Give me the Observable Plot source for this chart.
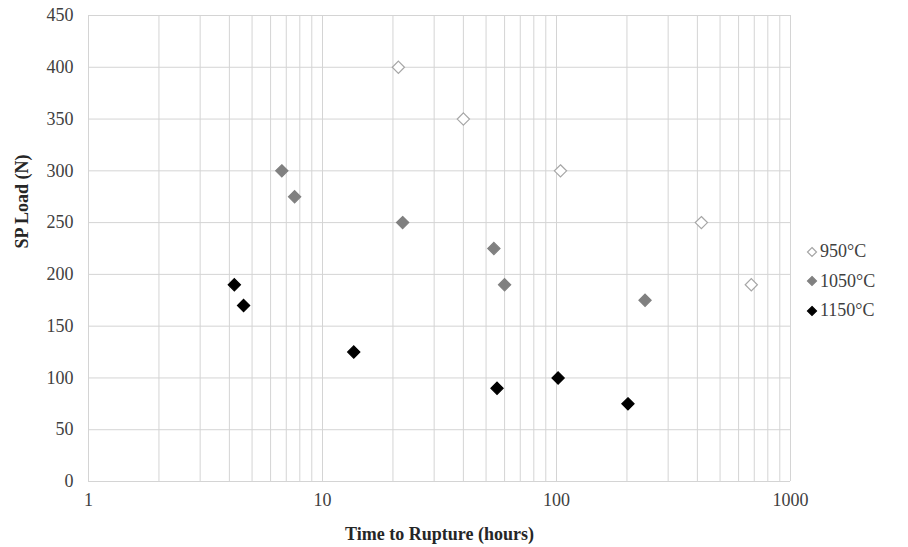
<!DOCTYPE html>
<html>
<head>
<meta charset="utf-8">
<script src="https://cdn.jsdelivr.net/npm/d3@7"></script>
<script src="https://cdn.jsdelivr.net/npm/@observablehq/plot@0.6"></script>
<style>
  html, body { margin: 0; padding: 0; background: #fff; }
  #wrap { position: relative; width: 908px; height: 547px; }
  #legend { position: absolute; left: 806px; top: 237px; font-family: "Liberation Serif", serif; font-size: 18px; color: #404040; }
  #legend .row { height: 29.5px; display: flex; align-items: center; }
  #legend svg { margin-right: 2px; }
</style>
</head>
<body>
<div id="wrap"><div id="legend"></div></div>
<script>
// Series: 950°C
const t950 = [21.1, 40, 104, 416, 680];
const p950 = [400, 350, 300, 250, 190];
// Series: 1050°C
const t1050 = [6.7, 7.6, 22, 54, 60, 239];
const p1050 = [300, 275, 250, 225, 190, 175];
// Series: 1150°C
const t1150 = [4.2, 4.6, 13.6, 55.7, 101.6, 202];
const p1150 = [190, 170, 125, 90, 100, 75];

const seriesNames = ["950°C", "1050°C", "1150°C"];
const seriesFill = ["#ffffff", "#808080", "#000000"];
const seriesStroke = ["#a6a6a6", "#808080", "#000000"];

const xTicks = [1, 10, 100, 1000];
const yTicks = [0, 50, 100, 150, 200, 250, 300, 350, 400, 450];
const xGrid = [1,2,3,4,5,6,7,8,9,10,20,30,40,50,60,70,80,90,100,200,300,400,500,600,700,800,900,1000];

const data = [];
[[t950, p950], [t1050, p1050], [t1150, p1150]].forEach(([ts, ps], i) => {
  ts.forEach((t, j) => data.push({series: seriesNames[i], t, p: ps[j], fill: seriesFill[i], stroke: seriesStroke[i]}));
});

const chart = Plot.plot({
  width: 908,
  height: 547,
  marginLeft: 88,
  marginRight: 118,
  marginTop: 15,
  marginBottom: 66,
  style: { fontFamily: "Liberation Serif, serif", fontSize: "18px", color: "#404040", background: "#fff", overflow: "visible" },
  x: { type: "log", domain: [1, 1000], ticks: xTicks, tickFormat: d => String(d), label: null, tickSize: 0, tickPadding: 12 },
  y: { domain: [0, 450], ticks: yTicks, label: null, tickSize: 0, tickPadding: 14 },
  marks: [
    Plot.ruleX(xGrid, { stroke: "#d4d4d4", strokeWidth: 1 }),
    Plot.ruleY(yTicks, { stroke: "#d4d4d4", strokeWidth: 1 }),
    Plot.axisX({ ticks: xTicks, tickFormat: d => String(d), tickSize: 0, tickPadding: 12, fill: "#404040", label: null }),
    Plot.axisY({ ticks: yTicks, tickSize: 0, tickPadding: 15, fill: "#404040", label: null }),
    Plot.dot(data, { x: "t", y: "p", symbol: "diamond2", r: 5.5, fill: "fill", stroke: "stroke", strokeWidth: 1.2 }),
    Plot.text(["Time to Rupture (hours)"], { frameAnchor: "bottom", dy: 58, fontWeight: "bold", fontSize: 18, fill: "#262626" }),
    Plot.text(["SP Load (N)"], { frameAnchor: "left", dx: -66, rotate: -90, fontWeight: "bold", fontSize: 18, fill: "#262626" })
  ]
});
document.getElementById("wrap").prepend(chart);

const legend = document.getElementById("legend");
seriesNames.forEach((name, i) => {
  const row = document.createElement("div");
  row.className = "row";
  row.innerHTML = `<svg width="12" height="12" viewBox="-6 -6 12 12"><path d="M0,-4.5L4.5,0L0,4.5L-4.5,0Z" fill="${seriesFill[i]}" stroke="${seriesStroke[i]}" stroke-width="1.2"/></svg><span>${name}</span>`;
  legend.appendChild(row);
});
</script>
</body>
</html>
